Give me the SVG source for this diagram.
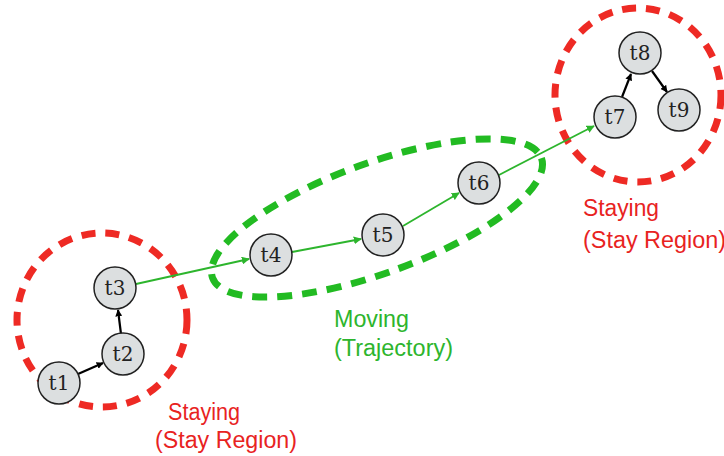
<svg xmlns="http://www.w3.org/2000/svg" width="724" height="456" viewBox="0 0 724 456">
  <defs>
    <marker id="ahBlack" viewBox="0 0 10 10" refX="9" refY="5" markerWidth="7" markerHeight="7" orient="auto" markerUnits="userSpaceOnUse">
      <path d="M0,0 L10,5 L0,10 z" fill="#000"/>
    </marker>
    <marker id="ahGreen" viewBox="0 0 10 10" refX="9" refY="5" markerWidth="8" markerHeight="8" orient="auto" markerUnits="userSpaceOnUse">
      <path d="M0,0 L10,5 L0,10 z" fill="#2db52d"/>
    </marker>
    <style>
      .stay { fill: none; stroke: #ee2a24; stroke-width: 7; stroke-dasharray: 14 10; }
      .move { fill: none; stroke: #22bb22; stroke-width: 7; stroke-dasharray: 15 10; }
      .node circle { fill: #dcdfe0; stroke: #222; stroke-width: 1.5; }
      .node text { font-family: "DejaVu Serif", "Liberation Serif", serif; font-size: 20px; fill: #222; text-anchor: middle; }
      .blk { stroke: #000; stroke-width: 2.2; fill: none; marker-end: url(#ahBlack); }
      .grn { stroke: #2db52d; stroke-width: 1.8; fill: none; marker-end: url(#ahGreen); }
      .lbl { font-family: "Liberation Sans", Arial, sans-serif; font-size: 23px; }
      .red { fill: #e8231f; }
      .green { fill: #2db52d; }
    </style>
  </defs>

  <!-- region outlines -->
  <g id="regions">
    <ellipse class="stay" cx="102" cy="320" rx="85" ry="87"/>
    <ellipse class="stay" cx="638" cy="95" rx="83" ry="87"/>
    <ellipse class="move" cx="377" cy="218" rx="175" ry="55" transform="rotate(-20 377 218)"/>
  </g>

  <!-- connectors -->
  <g id="connectors">
    <line class="blk" x1="78" y1="374" x2="103" y2="363"/>
    <line class="blk" x1="121" y1="334" x2="118" y2="310"/>
    <line class="grn" x1="136" y1="284" x2="249" y2="259"/>
    <line class="grn" x1="292" y1="252" x2="361" y2="239"/>
    <line class="grn" x1="403" y1="226" x2="459" y2="193"/>
    <line class="grn" x1="499" y1="175" x2="594" y2="126"/>
    <line class="blk" x1="622" y1="97" x2="631" y2="74"/>
    <line class="blk" x1="652" y1="71" x2="667" y2="92"/>
  </g>

  <!-- nodes -->
  <g id="t1" class="node"><circle cx="59" cy="383" r="21"/><text x="59" y="390">t1</text></g>
  <g id="t2" class="node"><circle cx="123" cy="354" r="21"/><text x="123" y="361">t2</text></g>
  <g id="t3" class="node"><circle cx="115" cy="288" r="21"/><text x="115" y="295">t3</text></g>
  <g id="t4" class="node"><circle cx="271" cy="255" r="21"/><text x="271" y="262">t4</text></g>
  <g id="t5" class="node"><circle cx="383" cy="235" r="21"/><text x="383" y="242">t5</text></g>
  <g id="t6" class="node"><circle cx="479" cy="183" r="21"/><text x="479" y="190">t6</text></g>
  <g id="t7" class="node"><circle cx="615" cy="117" r="21"/><text x="615" y="124">t7</text></g>
  <g id="t8" class="node"><circle cx="640" cy="53" r="21"/><text x="640" y="60">t8</text></g>
  <g id="t9" class="node"><circle cx="679" cy="110" r="21"/><text x="679" y="117">t9</text></g>

  <!-- region labels -->
  <g id="labels">
    <text class="lbl red" x="168" y="420" textLength="72" lengthAdjust="spacingAndGlyphs">Staying</text>
    <text class="lbl red" x="155" y="448" textLength="142" lengthAdjust="spacingAndGlyphs">(Stay Region)</text>
    <text class="lbl red" x="583" y="216" textLength="76" lengthAdjust="spacingAndGlyphs">Staying</text>
    <text class="lbl red" x="583" y="248" textLength="143" lengthAdjust="spacingAndGlyphs">(Stay Region)</text>
    <text class="lbl green" x="334" y="327" textLength="75" lengthAdjust="spacingAndGlyphs">Moving</text>
    <text class="lbl green" x="334" y="356" textLength="119" lengthAdjust="spacingAndGlyphs">(Trajectory)</text>
  </g>
</svg>
